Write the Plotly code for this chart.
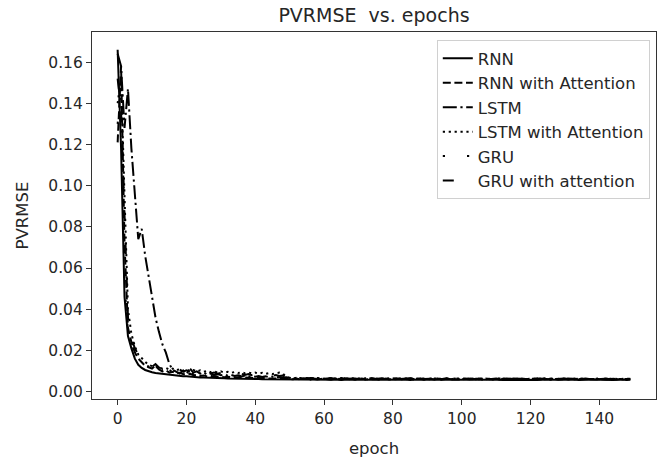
import plotly.graph_objects as go

epochs = list(range(150))

rnn = [0.166,0.118,0.046,0.027,0.021,0.016,0.013,0.0115,0.0105,0.0098,
       0.0094,0.0090,0.0088,0.0085,0.0083,0.0080,0.0079,0.0077,0.0076,0.0075,
       0.0074,0.0072,0.0071,0.0070,0.0069,0.0068,0.0068,0.0067,0.0066,0.0066,
       0.0065,0.0065,0.0064,0.0064,0.0063,0.0063,0.0062,0.0062,0.0062,0.0061,
       0.0061,0.0061,0.0060,0.0060,0.0060,0.0060,0.0059,0.0059,0.0059,0.0059,
       0.0059,0.0058,0.0060,0.0057,0.0059,0.0058,0.0057,0.0059,0.0058,0.0060,
       0.0057,0.0058,0.0059,0.0057,0.0058,0.0056,0.0058,0.0059,0.0057,0.0058,
       0.0060,0.0058,0.0057,0.0059,0.0058,0.0057,0.0058,0.0056,0.0057,0.0059,
       0.0058,0.0057,0.0058,0.0059,0.0057,0.0056,0.0058,0.0057,0.0059,0.0058,
       0.0057,0.0058,0.0056,0.0057,0.0058,0.0059,0.0057,0.0058,0.0057,0.0056,
       0.0058,0.0057,0.0059,0.0058,0.0057,0.0056,0.0058,0.0057,0.0058,0.0059,
       0.0057,0.0058,0.0056,0.0057,0.0058,0.0057,0.0059,0.0058,0.0056,0.0057,
       0.0058,0.0057,0.0056,0.0058,0.0057,0.0059,0.0058,0.0057,0.0056,0.0058,
       0.0057,0.0058,0.0059,0.0057,0.0056,0.0058,0.0057,0.0058,0.0056,0.0057,
       0.0058,0.0057,0.0059,0.0058,0.0056,0.0057,0.0058,0.0057,0.0056,0.0058]

rnn_att = [0.121,0.158,0.072,0.031,0.024,0.019,0.016,0.014,0.0125,0.0118,
           0.0112,0.0125,0.0108,0.0098,0.0104,0.0092,0.0096,0.0088,0.0091,0.0085,
           0.0082,0.0087,0.0079,0.0081,0.0076,0.0078,0.0074,0.0077,0.0072,0.0073,
           0.0071,0.0070,0.0072,0.0069,0.0068,0.0070,0.0067,0.0068,0.0066,0.0067,
           0.0065,0.0066,0.0064,0.0065,0.0063,0.0064,0.0063,0.0062,0.0063,0.0062,
           0.0062,0.0060,0.0063,0.0059,0.0061,0.0064,0.0060,0.0062,0.0059,0.0061,
           0.0063,0.0060,0.0058,0.0062,0.0061,0.0059,0.0063,0.0060,0.0062,0.0058,
           0.0061,0.0063,0.0059,0.0060,0.0062,0.0061,0.0058,0.0060,0.0063,0.0059,
           0.0061,0.0060,0.0062,0.0058,0.0061,0.0063,0.0059,0.0060,0.0062,0.0058,
           0.0060,0.0062,0.0059,0.0061,0.0058,0.0060,0.0063,0.0059,0.0061,0.0060,
           0.0058,0.0062,0.0060,0.0059,0.0061,0.0063,0.0058,0.0060,0.0062,0.0059,
           0.0061,0.0058,0.0060,0.0062,0.0059,0.0061,0.0060,0.0058,0.0062,0.0060,
           0.0059,0.0061,0.0063,0.0058,0.0060,0.0061,0.0059,0.0062,0.0058,0.0060,
           0.0061,0.0059,0.0062,0.0060,0.0058,0.0061,0.0060,0.0062,0.0059,0.0060,
           0.0058,0.0061,0.0060,0.0062,0.0059,0.0058,0.0061,0.0060,0.0059,0.0061]

lstm = [0.164,0.158,0.128,0.147,0.118,0.096,0.074,0.079,0.066,0.056,
        0.046,0.036,0.029,0.023,0.019,0.0135,0.0105,0.0095,0.0088,0.0102,
        0.0085,0.0112,0.0092,0.0098,0.0087,0.0094,0.0082,0.0089,0.0080,0.0086,
        0.0079,0.0083,0.0077,0.0081,0.0076,0.0079,0.0074,0.0078,0.0073,0.0076,
        0.0072,0.0075,0.0071,0.0074,0.0070,0.0073,0.0069,0.0071,0.0068,0.0070,
        0.0066,0.0064,0.0067,0.0063,0.0065,0.0062,0.0066,0.0064,0.0063,0.0065,
        0.0062,0.0064,0.0066,0.0063,0.0061,0.0064,0.0065,0.0062,0.0064,0.0063,
        0.0061,0.0063,0.0065,0.0062,0.0064,0.0061,0.0063,0.0064,0.0062,0.0060,
        0.0063,0.0065,0.0061,0.0063,0.0062,0.0064,0.0060,0.0062,0.0064,0.0061,
        0.0063,0.0062,0.0060,0.0064,0.0061,0.0063,0.0062,0.0060,0.0063,0.0064,
        0.0061,0.0062,0.0063,0.0060,0.0062,0.0064,0.0061,0.0063,0.0060,0.0062,
        0.0063,0.0061,0.0064,0.0062,0.0060,0.0063,0.0061,0.0062,0.0064,0.0060,
        0.0062,0.0063,0.0061,0.0060,0.0063,0.0062,0.0064,0.0061,0.0062,0.0060,
        0.0063,0.0061,0.0062,0.0064,0.0060,0.0062,0.0063,0.0061,0.0060,0.0062,
        0.0064,0.0061,0.0063,0.0060,0.0062,0.0061,0.0063,0.0062,0.0060,0.0062]

lstm_att = [0.140,0.152,0.095,0.040,0.028,0.022,0.018,0.016,0.0145,0.013,
            0.0125,0.0118,0.0122,0.0110,0.0115,0.0106,0.0112,0.0103,0.0109,0.0100,
            0.0108,0.0099,0.0105,0.0097,0.0103,0.0096,0.0101,0.0094,0.0099,0.0093,
            0.0098,0.0092,0.0096,0.0091,0.0095,0.0090,0.0094,0.0089,0.0093,0.0088,
            0.0092,0.0087,0.0091,0.0086,0.0090,0.0085,0.0089,0.0092,0.0088,0.0071,
            0.0066,0.0065,0.0063,0.0066,0.0064,0.0062,0.0065,0.0063,0.0066,0.0064,
            0.0062,0.0065,0.0063,0.0061,0.0064,0.0066,0.0063,0.0062,0.0065,0.0063,
            0.0064,0.0062,0.0060,0.0063,0.0065,0.0062,0.0064,0.0061,0.0063,0.0065,
            0.0062,0.0061,0.0064,0.0063,0.0060,0.0062,0.0065,0.0063,0.0061,0.0064,
            0.0062,0.0060,0.0063,0.0064,0.0061,0.0062,0.0064,0.0060,0.0063,0.0061,
            0.0064,0.0062,0.0060,0.0063,0.0061,0.0064,0.0062,0.0061,0.0063,0.0060,
            0.0062,0.0064,0.0061,0.0063,0.0062,0.0060,0.0063,0.0064,0.0061,0.0062,
            0.0060,0.0063,0.0062,0.0064,0.0061,0.0060,0.0062,0.0063,0.0061,0.0064,
            0.0062,0.0060,0.0063,0.0061,0.0062,0.0064,0.0060,0.0062,0.0063,0.0061,
            0.0060,0.0063,0.0062,0.0061,0.0064,0.0062,0.0060,0.0063,0.0061,0.0062]

gru = [0.130,0.146,0.052,0.029,0.023,0.019,0.016,0.0145,0.013,0.0122,
       0.0115,0.0108,0.0112,0.0102,0.0098,0.0105,0.0094,0.0099,0.0091,0.0096,
       0.0088,0.0093,0.0086,0.0090,0.0084,0.0088,0.0082,0.0086,0.0080,0.0084,
       0.0079,0.0082,0.0077,0.0080,0.0076,0.0079,0.0074,0.0077,0.0073,0.0075,
       0.0072,0.0074,0.0070,0.0073,0.0069,0.0071,0.0068,0.0070,0.0067,0.0066,
       0.0061,0.0063,0.0060,0.0062,0.0064,0.0061,0.0059,0.0062,0.0060,0.0063,
       0.0061,0.0059,0.0062,0.0064,0.0060,0.0061,0.0063,0.0059,0.0062,0.0060,
       0.0063,0.0061,0.0059,0.0062,0.0060,0.0058,0.0061,0.0063,0.0060,0.0062,
       0.0059,0.0061,0.0063,0.0060,0.0062,0.0059,0.0061,0.0060,0.0058,0.0062,
       0.0060,0.0063,0.0059,0.0061,0.0062,0.0060,0.0058,0.0061,0.0063,0.0059,
       0.0062,0.0060,0.0061,0.0059,0.0063,0.0060,0.0062,0.0058,0.0061,0.0060,
       0.0059,0.0062,0.0060,0.0063,0.0061,0.0059,0.0060,0.0062,0.0058,0.0061,
       0.0063,0.0060,0.0059,0.0061,0.0062,0.0060,0.0058,0.0061,0.0060,0.0062,
       0.0059,0.0061,0.0063,0.0060,0.0058,0.0061,0.0062,0.0059,0.0060,0.0062,
       0.0061,0.0059,0.0060,0.0062,0.0058,0.0061,0.0060,0.0059,0.0062,0.0060]

gru_att = [0.152,0.136,0.086,0.036,0.026,0.021,0.018,0.0158,0.0142,0.0130,
           0.0121,0.0134,0.0117,0.0110,0.0118,0.0104,0.0112,0.0100,0.0107,0.0097,
           0.0103,0.0095,0.0100,0.0092,0.0098,0.0090,0.0095,0.0088,0.0093,0.0087,
           0.0091,0.0085,0.0089,0.0084,0.0088,0.0082,0.0086,0.0081,0.0085,0.0080,
           0.0083,0.0079,0.0082,0.0078,0.0081,0.0077,0.0080,0.0076,0.0078,0.0069,
           0.0064,0.0062,0.0065,0.0061,0.0063,0.0066,0.0062,0.0064,0.0061,0.0063,
           0.0065,0.0062,0.0060,0.0064,0.0063,0.0061,0.0065,0.0062,0.0063,0.0060,
           0.0064,0.0062,0.0061,0.0063,0.0065,0.0061,0.0062,0.0064,0.0060,0.0063,
           0.0062,0.0064,0.0061,0.0060,0.0063,0.0065,0.0061,0.0062,0.0064,0.0060,
           0.0063,0.0061,0.0062,0.0064,0.0060,0.0062,0.0065,0.0061,0.0063,0.0060,
           0.0062,0.0064,0.0061,0.0063,0.0060,0.0062,0.0064,0.0061,0.0063,0.0062,
           0.0060,0.0063,0.0061,0.0064,0.0062,0.0060,0.0063,0.0062,0.0061,0.0064,
           0.0062,0.0060,0.0063,0.0061,0.0064,0.0062,0.0061,0.0060,0.0063,0.0062,
           0.0061,0.0064,0.0062,0.0060,0.0063,0.0061,0.0062,0.0064,0.0060,0.0062,
           0.0063,0.0061,0.0060,0.0062,0.0064,0.0061,0.0063,0.0060,0.0062,0.0061]

names = ["RNN", "RNN with Attention", "LSTM", "LSTM with Attention", "GRU", "GRU with attention"]
series = [rnn, rnn_att, lstm, lstm_att, gru, gru_att]
dashes = ["solid", "8px,3.6px", "14px,3.6px,2.2px,3.6px", "2.2px,3.7px", "2.2px,22px", "11px,22px"]

x_ticks = [0, 20, 40, 60, 80, 100, 120, 140]
y_ticks = [0.00, 0.02, 0.04, 0.06, 0.08, 0.10, 0.12, 0.14, 0.16]

fig = go.Figure()
for name, ys, d in zip(names, series, dashes):
    fig.add_trace(go.Scatter(x=epochs, y=ys, mode="lines", name=name,
                             line=dict(color="black", width=2, dash=d)))

font_family = "DejaVu Sans"
fig.update_layout(
    width=665, height=458,
    margin=dict(l=92, r=9, t=32, b=59, autoexpand=False),
    paper_bgcolor="white", plot_bgcolor="white",
    font=dict(family=font_family, size=15.5, color="#262626"),
    title=dict(text="PVRMSE&nbsp;&nbsp;vs. epochs", x=0.5, xref="paper", xanchor="center",
               y=(458 - 15) / 458, yref="container", yanchor="middle",
               font=dict(size=19, color="#262626")),
    showlegend=True,
    legend=dict(x=0.989, xanchor="right", y=0.978, yanchor="top",
                bgcolor="rgba(255,255,255,0.8)", bordercolor="#d0d0d0", borderwidth=1,
                font=dict(size=16.5, color="#262626"), tracegroupgap=0, itemwidth=30),
)
fig.update_xaxes(range=[-7.45, 156.45], tickvals=x_ticks, ticktext=[str(v) for v in x_ticks],
                 showgrid=False, zeroline=False, showline=True, mirror=True, automargin=False,
                 linecolor="#333", linewidth=1.2, ticks="outside", ticklen=5, tickcolor="#333",
                 title=dict(text="epoch", font=dict(size=16.5)))
fig.update_yaxes(range=[-0.0036, 0.1746], tickvals=y_ticks, ticktext=["%.2f" % v for v in y_ticks],
                 showgrid=False, zeroline=False, showline=True, mirror=True, automargin=False,
                 linecolor="#333", linewidth=1.2, ticks="outside", ticklen=5, tickcolor="#333",
                 title=dict(text="PVRMSE", font=dict(size=16.5)))

fig.write_html("out.html", config={"displayModeBar": False},
               post_script="document.body.style.margin='0px';document.body.style.overflow='hidden';")
